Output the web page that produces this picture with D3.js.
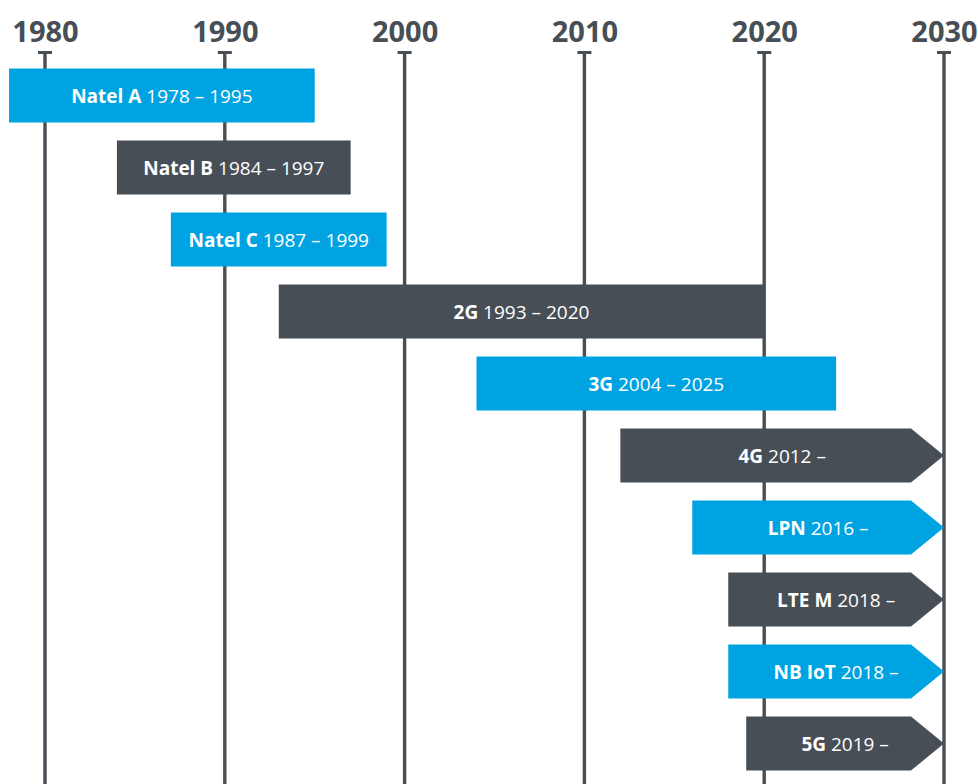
<!DOCTYPE html>
<html>
<head>
<meta charset="utf-8">
<script src="https://cdn.jsdelivr.net/npm/d3@7"></script>
<style>
  html, body { margin: 0; padding: 0; background: #fff; }
  svg { display: block; }
</style>
</head>
<body>
<svg id="chart" width="978" height="784"></svg>
<script>
const names = ["Natel A", "Natel B", "Natel C", "2G", "3G", "4G", "LPN", "LTE M", "NB IoT", "5G"];
const startYears = [1978, 1984, 1987, 1993, 2004, 2012, 2016, 2018, 2018, 2019];
// bar end positions as drawn in the picture (null = open-ended arrow)
const barEndYears = [1995, 1997, 1999, 2020, 2024, null, null, null, null, null];
// year labels as printed
const yearLabels = ["1978 – 1995", "1984 – 1997", "1987 – 1999", "1993 – 2020", "2004 – 2025",
                    "2012 –", "2016 –", "2018 –", "2018 –", "2019 –"];
const colorKeys = ["blue", "dark", "blue", "dark", "blue", "dark", "blue", "dark", "blue", "dark"];
const tickYears = [1980, 1990, 2000, 2010, 2020, 2030];
const openEndYear = 2030;

const palette = { blue: "#00a3e2", dark: "#474e55" };
const FONT = "'Open Sans', 'DejaVu Sans', sans-serif";

const svg = d3.select("#chart");
const x = d3.scaleLinear().domain([1980, 2030]).range([45, 944]);
const y = d3.scaleBand().domain(names).range([59.5, 779.5]).paddingInner(0.25).paddingOuter(0.125);

const data = names.map((n, i) => ({
  name: n, start: startYears[i], end: barEndYears[i], label: yearLabels[i], color: palette[colorKeys[i]]
}));

// grid lines + tick caps
const grid = svg.append("g");
grid.selectAll("line.v").data(tickYears).join("line")
  .attr("x1", d => x(d)).attr("x2", d => x(d))
  .attr("y1", 51).attr("y2", 784)
  .attr("stroke", "#474e55").attr("stroke-width", 3.4);
grid.selectAll("line.cap").data(tickYears).join("line")
  .attr("x1", d => x(d) - 7).attr("x2", d => x(d) + 7)
  .attr("y1", 52.5).attr("y2", 52.5)
  .attr("stroke", "#474e55").attr("stroke-width", 3);

// top axis labels
const axis = d3.axisTop(x).tickValues(tickYears).tickFormat(d3.format("d")).tickSize(0).tickPadding(0);
const ax = svg.append("g").attr("transform", "translate(0,41.5)").call(axis);
ax.select(".domain").remove();
ax.selectAll("text")
  .attr("dy", 0)
  .attr("font-family", FONT).attr("font-weight", 700).attr("font-size", 29)
  .attr("fill", "#474e55");

// bars
const arrowDepth = 33;
const bars = svg.append("g");
bars.selectAll("path").data(data).join("path")
  .attr("fill", d => d.color)
  .attr("d", d => {
    const x0 = x(d.start), yt = y(d.name), h = y.bandwidth(), yb = yt + h;
    if (d.end !== null) {
      const x1 = x(d.end);
      return `M${x0},${yt}H${x1}V${yb}H${x0}Z`;
    }
    const tip = x(openEndYear);
    return `M${x0},${yt}H${tip - arrowDepth}L${tip},${yt + h / 2}L${tip - arrowDepth},${yb}H${x0}Z`;
  });

// labels
const labels = svg.append("g");
labels.selectAll("text").data(data).join("text")
  .attr("x", d => (x(d.start) + x(d.end !== null ? d.end : openEndYear)) / 2)
  .attr("y", d => y(d.name) + y.bandwidth() / 2 + 7)
  .attr("text-anchor", "middle")
  .attr("font-family", FONT).attr("font-size", 19).attr("fill", "#fff")
  .each(function(d) {
    const t = d3.select(this);
    t.append("tspan").attr("font-weight", 700).text(d.name + " ");
    t.append("tspan").attr("font-weight", 400).text(d.label);
  });
</script>
</body>
</html>
